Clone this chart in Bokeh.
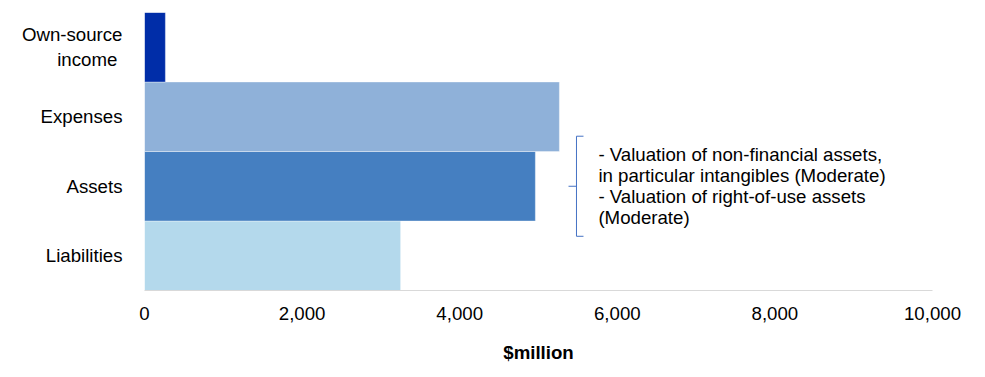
from bokeh.plotting import figure
from bokeh.models import Range1d, FixedTicker, ColumnDataSource, NumeralTickFormatter
from bokeh.core.properties import value
from bokeh.embed import file_html
from bokeh.resources import INLINE

categories = ["Liabilities", "Assets", "Expenses", "Own-source\nincome\u00a0"]
values = [3250, 4960, 5265, 265]
colors = ["#B4D9EC", "#457FC1", "#8FB1D9", "#002DA8"]
x_ticks = [0, 2000, 4000, 6000, 8000, 10000]
note_text = ("- Valuation of non-financial assets,\n"
             "in particular intangibles (Moderate)\n"
             "- Valuation of right-of-use assets\n"
             "(Moderate)")

FONT = "Liberation Sans"
FS = "18.67px"
ypos = list(range(len(categories)))

p = figure(width=977, height=369, output_backend="svg", toolbar_location=None,
           x_range=Range1d(0, 10000), y_range=Range1d(-0.5, len(categories) - 0.5),
           min_border_left=144, min_border_right=45, min_border_top=12, min_border_bottom=79)
p.outline_line_color = None
p.xgrid.visible = False
p.ygrid.visible = False

src = ColumnDataSource(dict(y=ypos, v=values, c=colors))
p.hbar(y="y", right="v", left=0, height=1.0, fill_color="c", line_color="white",
       line_alpha=0.35, line_width=1, source=src)

# x axis
xa = p.xaxis[0]
xa.ticker = FixedTicker(ticks=x_ticks)
xa.formatter = NumeralTickFormatter(format="0,0")
xa.axis_line_color = "#D9D9D9"
xa.axis_line_width = 1
xa.major_tick_line_color = None
xa.minor_tick_line_color = None
xa.major_label_text_font = FONT
xa.major_label_text_font_size = FS
xa.major_label_text_color = "#000000"
xa.major_label_standoff = 10
xa.axis_label = "$million"
xa.axis_label_text_font = FONT
xa.axis_label_text_font_size = FS
xa.axis_label_text_font_style = "bold"
xa.axis_label_text_color = "#000000"
xa.axis_label_standoff = 19

# y axis
ya = p.yaxis[0]
ya.ticker = FixedTicker(ticks=ypos)
ya.major_label_overrides = {i: c for i, c in zip(ypos, categories)}
ya.axis_line_color = None
ya.major_tick_line_color = None
ya.minor_tick_line_color = None
ya.major_label_text_font = FONT
ya.major_label_text_font_size = FS
ya.major_label_text_color = "#000000"
ya.major_label_standoff = 16

# bracket annotation around Assets
ai = categories.index("Assets")
bx, bx2, bxm = 5482, 5571, 5381
top, bot = ai + 0.72, ai - 0.72
bc = "#4472C4"
p.line([bx2, bx, bx, bx2], [top, top, bot, bot], line_color=bc, line_width=1)
p.line([bxm, bx], [ai, ai], line_color=bc, line_width=1)
p.text(x=[5760], y=[ai], text=[note_text], text_font=value(FONT), text_font_size=FS,
       text_color="#000000", text_align="left", text_baseline="middle", text_line_height=1.0)

open("out.html", "w").write(file_html(p, INLINE))
